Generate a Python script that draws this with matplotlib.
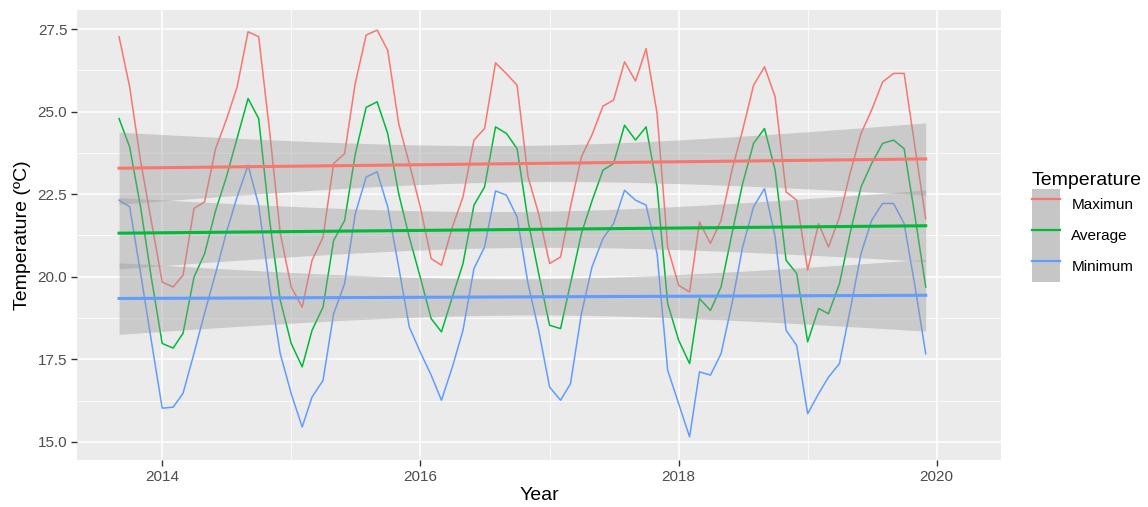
import numpy as np
import pandas as pd
import matplotlib
matplotlib.use("Agg")
import matplotlib.pyplot as plt
import matplotlib.dates as mdates
from matplotlib.patches import Patch
from matplotlib.lines import Line2D

plt.rcParams["font.family"] = ["Liberation Sans", "DejaVu Sans"]

### Data: monthly temperatures, Sep 2013 - Dec 2019 ###
start_month = "2013-09-01"

t_max = [27.27, 25.75, 23.5, 21.7, 19.84, 19.69, 20.05, 22.07, 22.27, 23.88, 24.74, 25.75,
         27.42, 27.27, 24.4, 21.32, 19.69, 19.08, 20.5, 21.2, 23.43, 23.73, 25.85, 27.32,
         27.47, 26.86, 24.64, 23.43, 22.12, 20.55, 20.35, 21.51, 22.42, 24.14, 24.49, 26.48,
         26.15, 25.8, 23.02, 21.91, 20.4, 20.6, 22.12, 23.63, 24.3, 25.17, 25.35, 26.51,
         25.93, 26.91, 24.95, 20.9, 19.74, 19.54, 21.66, 21.01, 21.71, 23.23, 24.44, 25.8,
         26.36, 25.45, 22.57, 22.32, 20.2, 21.61, 20.9, 21.81, 23.13, 24.34, 25.05, 25.9,
         26.16, 26.16, 23.9, 21.76]

t_avg = [24.79, 23.93, 22.1, 19.99, 17.98, 17.84, 18.29, 19.99, 20.7, 22.0, 23.0, 24.2,
         25.4, 24.79, 21.7, 19.29, 17.98, 17.27, 18.38, 19.08, 21.1, 21.7, 23.7, 25.13,
         25.3, 24.34, 22.52, 21.2, 19.99, 18.73, 18.33, 19.39, 20.4, 22.17, 22.72, 24.54,
         24.34, 23.88, 21.7, 20.1, 18.53, 18.43, 19.79, 21.31, 22.3, 23.23, 23.43, 24.59,
         24.14, 24.54, 22.72, 19.19, 18.08, 17.37, 19.34, 18.98, 19.69, 21.31, 22.82, 24.04,
         24.49, 23.23, 20.5, 20.1, 18.03, 19.04, 18.88, 19.79, 21.31, 22.72, 23.43, 24.04,
         24.14, 23.88, 21.81, 19.69]

t_min = [22.32, 22.12, 20.1, 18.08, 16.02, 16.05, 16.47, 17.68, 18.9, 20.1, 21.32, 22.42,
         23.38, 22.17, 19.69, 17.67, 16.46, 15.45, 16.36, 16.86, 18.88, 19.79, 21.9, 23.02,
         23.18, 22.12, 20.3, 18.48, 17.72, 17.02, 16.26, 17.27, 18.38, 20.25, 20.9, 22.6,
         22.47, 21.81, 19.79, 18.38, 16.66, 16.26, 16.76, 18.88, 20.3, 21.16, 21.61, 22.62,
         22.32, 22.17, 20.7, 17.17, 16.16, 15.15, 17.12, 17.02, 17.67, 19.19, 20.9, 22.12,
         22.67, 21.21, 18.38, 17.92, 15.85, 16.46, 16.96, 17.37, 18.98, 20.7, 21.71, 22.22,
         22.22, 21.61, 19.69, 17.67]

labels = ["Maximun", "Average", "Minimum"]
colors = ["#F8766D", "#00BA38", "#619CFF"]

dates = pd.date_range(start_month, periods=len(t_max), freq="MS")
x = mdates.date2num(dates.to_pydatetime())

### Figure ###
fig = plt.figure(figsize=(11.48, 5.07), dpi=100)
ax = fig.add_axes([77 / 1148, 1 - 460 / 507, (1001 - 77) / 1148, 450 / 507])
ax.set_facecolor("#ebebeb")
for s in ax.spines.values():
    s.set_visible(False)

# raw series
for series, c in zip([t_max, t_avg, t_min], colors):
    ax.plot(x, series, color=c, lw=1.1, zorder=3)

# linear fit + 95% band (like geom_smooth(method="lm"))
xs = np.linspace(x.min(), x.max(), 80)
tcrit = 1.993  # t(0.975, df=74)
for series, c in zip([t_max, t_avg, t_min], colors):
    y = np.array(series)
    b, a = np.polyfit(x, y, 1)
    resid = y - (a + b * x)
    n = len(y)
    s = np.sqrt(np.sum(resid ** 2) / (n - 2))
    sxx = np.sum((x - x.mean()) ** 2)
    se = s * np.sqrt(1 / n + (xs - x.mean()) ** 2 / sxx)
    fit = a + b * xs
    ax.fill_between(xs, fit - tcrit * se, fit + tcrit * se, color="#999999",
                    alpha=0.4, lw=0, zorder=4)
    ax.plot(xs, fit, color=c, lw=2.2, zorder=5)

### Axes ###
ax.set_xlim(mdates.date2num(pd.Timestamp("2013-05-05")), mdates.date2num(pd.Timestamp("2020-07-01")))
ax.set_ylim(14.45, 28.08)
ax.xaxis.set_major_locator(mdates.YearLocator(2))
ax.xaxis.set_minor_locator(mdates.YearLocator(1))
ax.xaxis.set_major_formatter(mdates.DateFormatter("%Y"))
ax.set_yticks([15.0, 17.5, 20.0, 22.5, 25.0, 27.5])
ax.set_yticks([16.25, 18.75, 21.25, 23.75, 26.25], minor=True)
ax.yaxis.set_major_formatter(matplotlib.ticker.FormatStrFormatter("%.1f"))

ax.grid(which="major", color="white", lw=1.1, zorder=0)
ax.grid(which="minor", color="white", lw=0.55, zorder=0)
ax.set_axisbelow(True)
ax.tick_params(which="major", length=4, width=1, color="#333333",
               labelsize=11, labelcolor="#4d4d4d", pad=3)
ax.tick_params(which="minor", length=0)

ax.set_xlabel("Year", fontsize=14, labelpad=2)
ax.set_ylabel("Temperature (ºC)", fontsize=14, labelpad=5)

### Legend ###
handles = [(Patch(facecolor="#c6c6c6", edgecolor="none"), Line2D([], [], color=c, lw=1.6))
           for c in colors]
leg = fig.legend(handles, labels, loc="upper left",
                 bbox_to_anchor=(1032 / 1148, 1 - 172 / 507),
                 title="Temperature", title_fontsize=14, fontsize=11,
                 frameon=False, handlelength=1.83, handleheight=2.74,
                 labelspacing=0.0, handletextpad=0.75, borderaxespad=0,
                 borderpad=0, alignment="left")

fig.savefig("out.png", dpi=100)
